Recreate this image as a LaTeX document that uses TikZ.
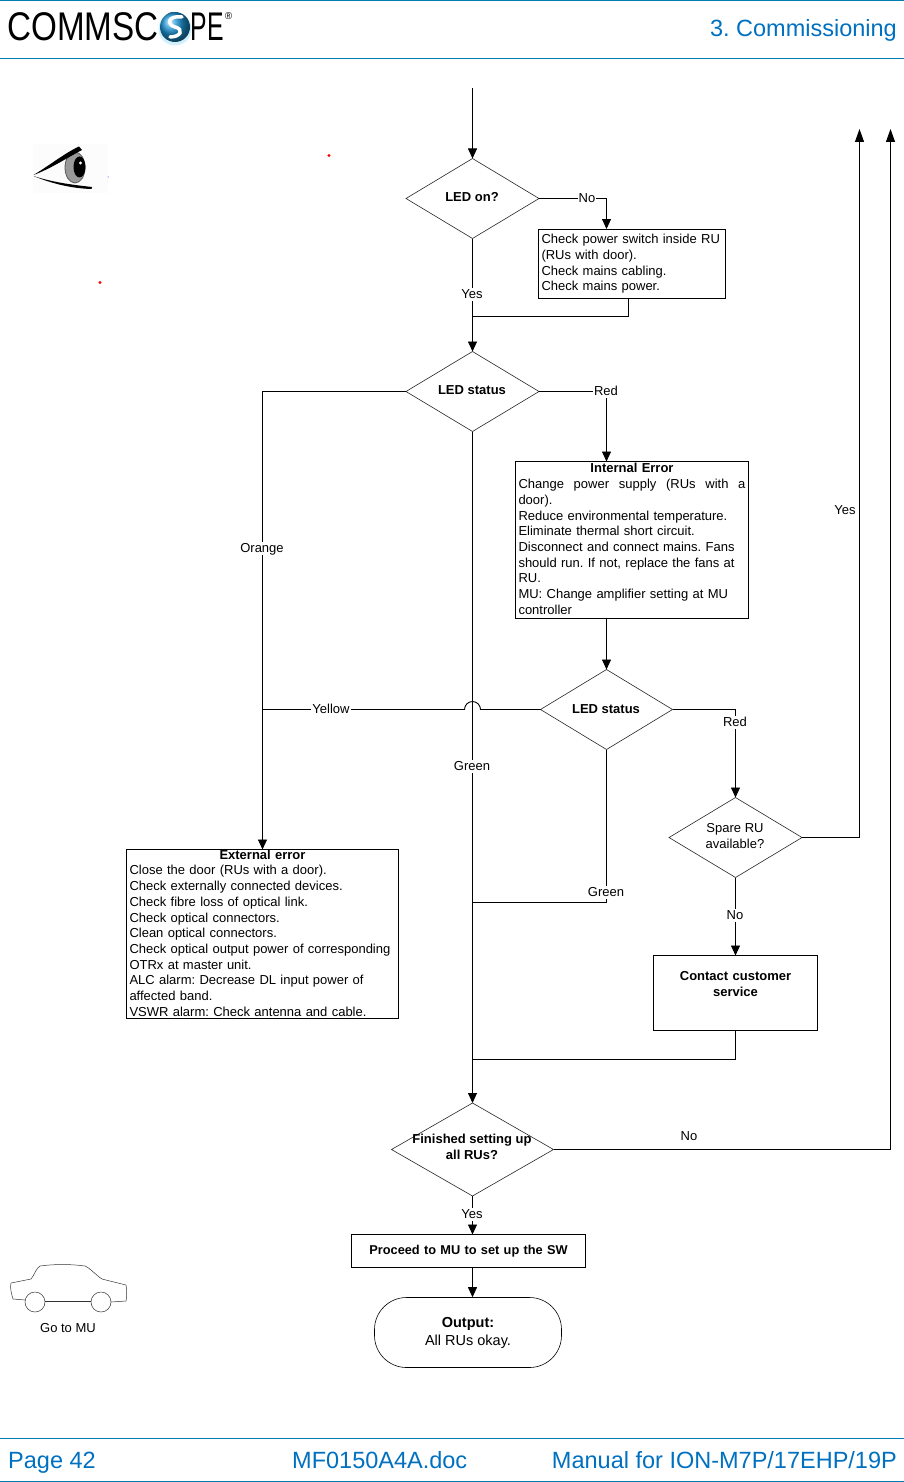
\documentclass[tikz,border=0pt]{standalone}
\usepackage{fontspec}
\setmainfont{Liberation Sans}
\usetikzlibrary{positioning,shapes.geometric,arrows.meta}
\definecolor{rulecolor}{RGB}{0,125,175}
\definecolor{headblue}{RGB}{0,112,192}
\definecolor{ballblue}{RGB}{30,150,215}
\tikzset{
  flow/.style={draw=black,line width=0.9pt},
  flowarrow/.style={flow,-{Triangle[length=10pt,width=9pt]}},
  uparrow/.style={flow,-{Triangle[length=13pt,width=9pt]}},
  decision/.style={draw=black!85,line width=0.6pt,diamond,inner sep=0pt,outer sep=0pt,fill=white},
  decisiontext/.style={align=center,font=\fontsize{13}{16}\selectfont},
  decisionbold/.style={align=center,font=\bfseries\fontsize{13}{16}\selectfont},
  infobox/.style={draw=black,line width=0.8pt,anchor=north west,inner ysep=0pt,inner xsep=3pt,outer sep=0pt,
    align=left,font=\fontsize{13}{15.7}\selectfont},
  linelabel/.style={fill=white,inner xsep=1pt,inner ysep=1pt,text height=9.5pt,text depth=1pt,font=\fontsize{13}{16}\selectfont},
  headtext/.style={text=headblue,inner sep=0pt,font=\fontsize{23.5}{28}\selectfont},
  headrule/.style={draw=rulecolor,line width=1pt},
  carline/.style={line width=0.5pt,draw=black!80}
}
\begin{document}
\frenchspacing
\begin{tikzpicture}[x=1pt,y=-1pt]
\useasboundingbox (0,0) rectangle (904,1482);
\draw [headrule] (0,0.5) -- (904,0.5);
\draw [headrule] (0,58.5) -- (904,58.5);
\draw [headrule] (0,1438.5) -- (904,1438.5);
\draw [headrule] (0,1481.5) -- (904,1481.5);
\node [anchor=base west,inner sep=0pt,font=\fontsize{40}{40}\selectfont] (logotext) at (7,41) {\scalebox{0.83}[1]{COMMSC}\kern3pt\scalebox{0.82}[1]{O}\kern4pt\scalebox{0.62}[1]{PE}};
\fill [cyan!30,opacity=0.6] (175,29) circle (16.5);
\shade [ball color=ballblue] (175,27) circle (15);
\draw [white,line width=3.5pt,line cap=round] (182,17) .. controls (167,15) and (167,25) .. (175,27) .. controls (184,29) and (181,37) .. (170,37);
\node [inner sep=0pt,font=\fontsize{10}{10}\selectfont] (logomark) at (228.5,16) {®};
\node [headtext,anchor=base east] (chapter) at (897,37) {3. Commissioning};
\node [headtext,anchor=base west] (pagenum) at (8,1468) {Page 42};
\node [headtext,anchor=base west] (docname) at (292,1468) {MF0150A4A.doc};
\node [headtext,anchor=base east] (manual) at (897,1468) {Manual for ION-M7P/17EHP/19P};
\fill [black!1] (33,144) rectangle (108,193);
\filldraw [fill=black!40,draw=black!65,line width=0.8pt] (75,167.5) ellipse (10 and 15.5);
\fill [black] (79.5,167) ellipse (6 and 10.5);
\fill [white] (80.5,163) circle (1.6);
\fill [black] (33.5,175) .. controls (50,165) and (65,153) .. (79,146.5) -- (82,150) .. controls (65,159) and (50,169) .. (33.5,175) -- cycle;
\fill [black] (33.5,176) .. controls (55,183) and (75,185) .. (92,187) -- (91.5,189) .. controls (75,188.5) and (55,185) .. (33.5,176) -- cycle;
\fill [red] (329,155.5) circle (1.6);
\fill [red] (100,282.5) circle (1.6);
\fill [blue] (108,177) circle (0.5);
\draw [carline] (25,1300) -- (13,1299) .. controls (11,1292) and (10,1288) .. (11,1283) -- (31,1279) .. controls (34,1276) and (36,1268) .. (40,1266) .. controls (55,1264) and (70,1264) .. (85,1266) .. controls (90,1268) and (97,1276) .. (102,1279) -- (126,1285) .. controls (127,1290) and (127,1296) .. (126,1301) -- (111,1302);
\draw [carline] (35,1302) circle (10);
\draw [carline] (101,1302) circle (10);
\draw [carline] (45,1301) -- (91,1301);
\node [decisiontext] (carlabel) at (68,1328) {Go to MU};
\coordinate (start) at (472.5,88);
\coordinate (checkin) at (606.5,229);
\coordinate (checkout) at (628,298.5);
\coordinate (mergeone) at (472.5,316.5);
\coordinate (internalin) at (606.5,461.5);
\coordinate (internalout) at (606.5,618.5);
\coordinate (externalin) at (262.5,849.5);
\coordinate (hopright) at (480.5,709.5);
\coordinate (yellowjoin) at (262.5,709.5);
\coordinate (greenjoin) at (472.5,902.5);
\coordinate (contactjoin) at (472.5,1059.5);
\coordinate (spareend) at (859.5,129);
\coordinate (finishedend) at (890.5,129);
\node [decision,minimum width=133,minimum height=80] (ledon) at (472.5,198.5) {};
\node [decision,minimum width=133,minimum height=80] (status) at (472.5,391.5) {};
\node [decision,minimum width=132,minimum height=80] (statustwo) at (606.5,709.5) {};
\node [decision,minimum width=133,minimum height=80] (spare) at (735.5,837.5) {};
\node [decision,minimum width=162,minimum height=93] (finished) at (472.5,1149.5) {};
\node [decisionbold] (ledontext) at (472,197) {LED on?};
\node [decisionbold] (statustext) at (472,390) {LED status};
\node [decisionbold] (statustwotext) at (606,709) {LED status};
\node [decisiontext] (sparetext) at (735,836) {Spare RU\\available?};
\node [decisionbold] (finishedtext) at (472,1147) {Finished setting up\\all RUs?};
\node [infobox,minimum width=187,minimum height=69,text width=181] (check) at (538.5,229.5) {Check power switch inside RU\\(RUs with door).\\Check mains cabling.\\Check mains power.};
\node [infobox,minimum width=233,minimum height=157,text width=227] (internal) at (515.5,461.5) {\makebox[227pt][c]{\textbf{Internal Error}}\\\makebox[227pt][s]{Change\hfill power\hfill supply\hfill (RUs\hfill with\hfill a}\\door).\\Reduce environmental temperature.\\Eliminate thermal short circuit.\\Disconnect and connect mains. Fans\\should run. If not, replace the fans at\\RU.\\MU: Change amplifier setting at MU\\controller\\[-13.5pt]\mbox{}};
\node [infobox,minimum width=272,minimum height=169,text width=266] (external) at (126.5,849.5) {\makebox[266pt][c]{\textbf{External error}}\\Close the door (RUs with a door).\\Check externally connected devices.\\Check fibre loss of optical link.\\Check optical connectors.\\Clean optical connectors.\\Check optical output power of corresponding\\OTRx at master unit.\\ALC alarm: Decrease DL input power of\\affected band.\\VSWR alarm: Check antenna and cable.\\[-13.7pt]\mbox{}};
\node [infobox,align=center,minimum width=164,minimum height=75,text width=158,font=\bfseries\fontsize{13}{16}\selectfont] (contact) at (653.5,955.5) {Contact customer\\service\\[2pt]\mbox{}};
\node [infobox,align=center,minimum width=234,minimum height=33,text width=228,font=\bfseries\fontsize{12.8}{16}\selectfont] (proceed) at (351.5,1234.5) {Proceed to MU to set up the SW};
\node [draw=black,line width=0.6pt,rounded corners=32pt,minimum width=187,minimum height=70,inner sep=0pt,align=center,font=\fontsize{14.5}{18}\selectfont] (output) at (468,1332.5) {\textbf{Output:}\\All RUs okay.};
\draw [flowarrow] (start) -- (ledon.north);
\draw [flowarrow] (ledon.east) -| (checkin);
\draw [flowarrow] (ledon.south) -- (status.north);
\draw [flow] (checkout) |- (mergeone);
\draw [flowarrow] (status.east) -| (internalin);
\draw [flowarrow] (internalout) -- (statustwo.north);
\draw [flowarrow] (statustwo.east) -| (spare.north);
\draw [uparrow] (spare.east) -| (spareend);
\draw [flowarrow] (spare.south) -- (spare.south|-contact.north);
\draw [flow] (spare.south|-contact.south) |- (contactjoin);
\draw [flow] (statustwo.south) |- (greenjoin);
\draw [flowarrow] (status.south) -- (finished.north);
\draw [flow] (status.west) -| (yellowjoin);
\draw [flowarrow] (yellowjoin) -- (externalin);
\draw [flow] (statustwo.west) -- (hopright) arc (0:-180:8) -- (yellowjoin);
\draw [uparrow] (finished.east) -| (finishedend);
\draw [flowarrow] (finished.south) -- (proceed.north-|finished);
\draw [flowarrow] (proceed.south-|finished) -- (output.north-|finished);
\node [linelabel] (labelno) at (587,198.5) {No};
\node [linelabel] (labelyes) at (472,294.5) {Yes};
\node [linelabel] (labelred) at (606,391.5) {Red};
\node [linelabel] (labelorange) at (262,548.5) {Orange};
\node [linelabel] (labelyellow) at (331,709.5) {Yellow};
\node [linelabel] (labelgreen) at (472,766.5) {Green};
\node [linelabel] (labelredtwo) at (735,722.5) {Red};
\node [linelabel] (labelgreentwo) at (606,892.5) {Green};
\node [linelabel] (labelspareyes) at (845,510.5) {Yes};
\node [linelabel] (labelspareno) at (735,915.5) {No};
\node [linelabel] (labelfinishedno) at (689,1136.5) {No};
\node [linelabel] (labelfinishedyes) at (472,1214.5) {Yes};
\end{tikzpicture}
\end{document}
